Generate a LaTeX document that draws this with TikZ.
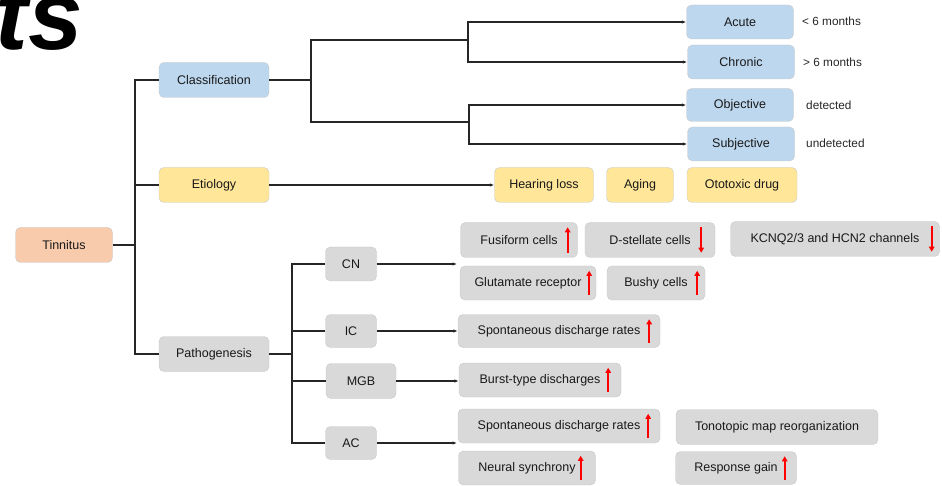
\documentclass[tikz,border=0pt]{standalone}
\usepackage{fontspec}
\setmainfont{Liberation Sans}
\usetikzlibrary{arrows.meta}
\definecolor{salmon}{HTML}{F8CBAD}
\definecolor{skyblue}{HTML}{BDD7EE}
\definecolor{sand}{HTML}{FFE699}
\definecolor{lgray}{HTML}{D9D9D9}
\newcommand{\rise}[2]{\draw[redarrow] ([xshift=-#2pt,yshift=5pt]#1.south east) -- ([xshift=-#2pt,yshift=-5pt]#1.north east);}
\newcommand{\fall}[2]{\draw[redarrow] ([xshift=-#2pt,yshift=-5pt]#1.north east) -- ([xshift=-#2pt,yshift=5pt]#1.south east);}

\begin{document}
\begin{tikzpicture}[x=1pt,y=-1pt,
    box/.style={draw=black!22,rounded corners=5pt,minimum height=35pt,inner sep=0pt,
      font=\fontsize{12.5}{14}\selectfont,text=black!90},
    conn/.style={draw=black!85,line width=1.4pt},
    arr/.style={conn,-{Latex[length=4.5pt,width=3.5pt]}},
    redarrow/.style={red,line width=1.6pt,-{Triangle[length=5pt,width=5.5pt]}},
    note/.style={anchor=west,inner sep=0pt,font=\fontsize{11.8}{14}\selectfont,text=black!85}]
      \useasboundingbox (0,0) rectangle (942,486);
      \node[anchor=base east,inner sep=0pt,font=\fontsize{98}{98}\selectfont\bfseries\itshape] (ttl) at (83,50) {ts};

      \node[box,fill=salmon,minimum width=97pt] (tin) at (64,245) {Tinnitus};
      \node[box,fill=skyblue,minimum width=110pt] (cls) at (214,80) {Classification};
      \node[box,fill=sand,minimum width=110pt] (eti) at (214,185) {Etiology};
      \node[box,fill=lgray,minimum width=110pt] (pat) at (214,354) {Pathogenesis};

      \node[box,fill=skyblue,minimum width=107pt,minimum height=34pt] (acu) at (740,22) {Acute};
      \node[box,fill=skyblue,minimum width=107pt,minimum height=34pt] (chr) at (741,62) {Chronic};
      \node[box,fill=skyblue,minimum width=107pt,minimum height=33pt] (obj) at (740,105) {Objective};
      \node[box,fill=skyblue,minimum width=107pt,minimum height=34pt] (sub) at (741,144) {Subjective};
      \node[note] (n1) at (802,21) {< 6 months};
      \node[note] (n2) at (803,62) {> 6 months};
      \node[note] (n3) at (806,105) {detected};
      \node[note] (n4) at (806,143) {undetected};

      \node[box,fill=sand,minimum width=99pt] (hea) at (544,185) {Hearing loss};
      \node[box,fill=sand,minimum width=67pt] (agi) at (640,185) {Aging};
      \node[box,fill=sand,minimum width=110pt] (oto) at (742,185) {Ototoxic drug};

      \node[box,fill=lgray,minimum width=51pt,minimum height=34pt] (cn) at (351,264) {CN};
      \node[box,fill=lgray,minimum width=51pt,minimum height=33pt] (ic) at (351,331) {IC};
      \node[box,fill=lgray,minimum width=70pt] (mgb) at (361,381) {MGB};
      \node[box,fill=lgray,minimum width=51pt,minimum height=33pt] (ac) at (351,443) {AC};

      \node[box,fill=lgray,minimum width=117pt] (fus) at (519,240) {Fusiform cells};
      \node[box,fill=lgray,minimum width=130pt] (dst) at (650,240) {D-stellate cells};
      \node[box,fill=lgray,minimum width=209pt] (kcn) at (835,239) {KCNQ2/3 and HCN2 channels};
      \node[box,fill=lgray,minimum width=136pt,minimum height=34pt] (glu) at (528,283) {Glutamate receptor};
      \node[box,fill=lgray,minimum width=98pt,minimum height=34pt] (bus) at (656,283) {Bushy cells};
      \node[box,fill=lgray,minimum width=202pt,minimum height=33pt] (ics) at (559,331) {Spontaneous discharge rates};
      \node[box,fill=lgray,minimum width=162pt,minimum height=34pt] (bur) at (540,380) {Burst-type discharges};
      \node[box,fill=lgray,minimum width=202pt,minimum height=34pt] (acs) at (559,426) {Spontaneous discharge rates};
      \node[box,fill=lgray,minimum width=137pt,minimum height=34pt] (neu) at (527,468) {Neural synchrony};
      \node[box,fill=lgray,minimum width=202pt] (ton) at (777,427) {Tonotopic map reorganization};
      \node[box,fill=lgray,minimum width=121pt,minimum height=33pt] (res) at (736,468) {Response gain};

      \coordinate (tj) at (135,245);
      \draw[conn] (tin.east) -- (tj);
      \draw[conn] (cls.west) -| (tj) |- (pat.west);
      \draw[conn] (eti.west) -- (eti.west -| tj);

      \coordinate (cj) at (311,80);
      \coordinate (cja) at (468,40);
      \coordinate (cjb) at (469,122);
      \draw[conn] (cls.east) -- (cj);
      \draw[conn] (cja) -| (cj) |- (cjb);
      \draw[arr] (cja) |- (acu.west);
      \draw[arr] (cja) |- (chr.west);
      \draw[arr] (cjb) |- (obj.west);
      \draw[arr] (cjb) |- (sub.west);

      \draw[arr] (eti.east) -- (hea.west);

      \coordinate (pj) at (292,354);
      \coordinate (cnend) at (457,264);
      \coordinate (acend) at (457,443);
      \draw[conn] (pat.east) -- (pj);
      \draw[conn] (cn.west) -| (pj) |- (ac.west);
      \draw[conn] (ic.west) -- (ic.west -| pj);
      \draw[conn] (mgb.west) -- (mgb.west -| pj);
      \draw[arr] (cn.east) -- (cnend);
      \draw[arr] (ic.east) -- (ics.west);
      \draw[arr] (mgb.east) -- (mgb.east -| bur.west);
      \draw[arr] (ac.east) -- (acend);

      \rise{fus}{10}
      \fall{dst}{14}
      \fall{kcn}{8}
      \rise{glu}{7}
      \rise{bus}{8}
      \rise{ics}{11}
      \rise{bur}{13}
      \rise{acs}{12}
      \rise{neu}{15}
      \rise{res}{12}
    \end{tikzpicture}
\end{document}
